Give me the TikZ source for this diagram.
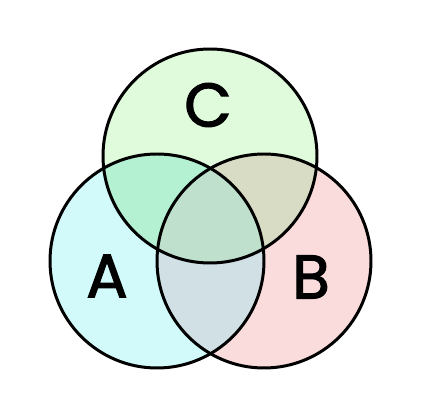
\documentclass[tikz,border=0pt]{standalone}
\usepackage{fontspec}
\setmainfont{Poppins}
\newfontfamily\setfont{Poppins}[FakeBold=2]
\usepackage{xcolor}
\usepackage{tikz}

\definecolor{setC}{HTML}{E0FADC}
\definecolor{setA}{HTML}{D2FAFA}
\definecolor{setB}{HTML}{FADCDC}
\definecolor{setAC}{HTML}{B4F0D2}
\definecolor{setBC}{HTML}{D8DCC4}
\definecolor{setAB}{HTML}{D0E0E4}
\definecolor{setABC}{HTML}{BEE0CC}

\tikzset{
  rim/.style={line width=1.7pt, black},
  setlabel/.style={font=\setfont\fontsize{35}{35}\selectfont, inner sep=0pt}
}

\begin{document}
\begin{tikzpicture}[x=0.02cm,y=0.02cm]
\fill[white] (0,0) rectangle (420,420);
\useasboundingbox (0,0) rectangle (420,420);

% Base sets
\fill[setA] (157,159) circle (107);
\fill[setB] (264,159) circle (107);
\fill[setC] (210,264) circle (107);

% Pairwise overlaps
\begin{scope}
  \clip (157,159) circle (107);
  \fill[setAC] (210,264) circle (107);
  \fill[setAB] (264,159) circle (107);
\end{scope}
\begin{scope}
  \clip (264,159) circle (107);
  \fill[setBC] (210,264) circle (107);
\end{scope}

% Triple overlap
\begin{scope}
  \clip (157,159) circle (107);
  \clip (264,159) circle (107);
  \fill[setABC] (210,264) circle (107);
\end{scope}

% Outlines
\draw[rim] (157,159) circle (107);
\draw[rim] (264,159) circle (107);
\draw[rim] (210,264) circle (107);

% Labels
\node[setlabel] (labC) at (208,315) {C};
\node[setlabel] (labA) at (107,144) {A};
\node[setlabel] (labB) at (311,143) {B};

\end{tikzpicture}
\end{document}
